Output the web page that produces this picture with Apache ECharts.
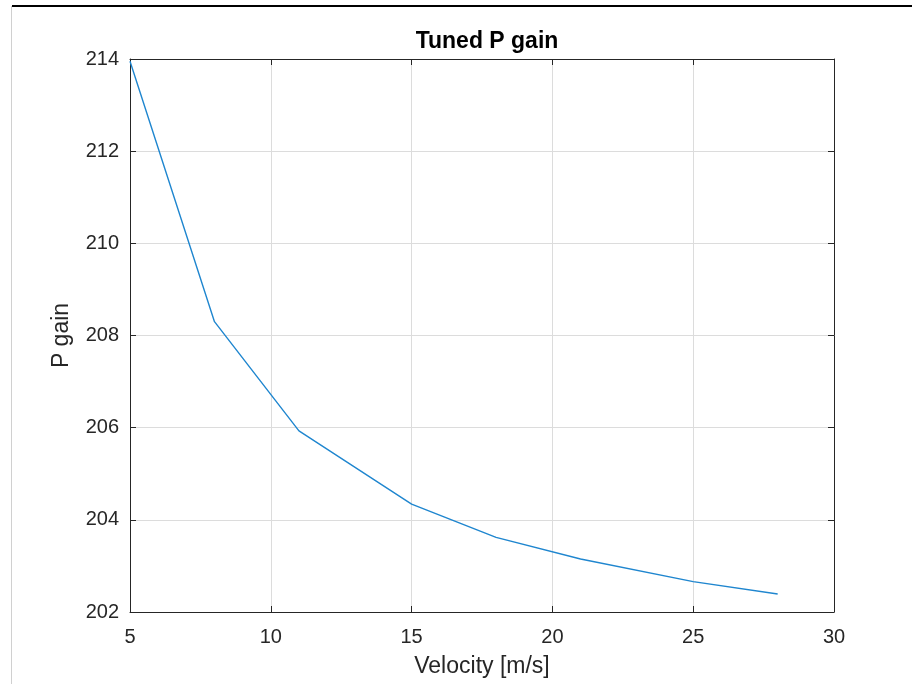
<!DOCTYPE html>
<html>
<head>
<meta charset="utf-8">
<title>Tuned P gain</title>
<script src="https://cdn.jsdelivr.net/npm/echarts@6/dist/echarts.min.js"></script>
<style>
  html, body { margin: 0; padding: 0; background: #fff; }
  #chart { width: 912px; height: 684px; }
</style>
</head>
<body>
<div id="chart"></div>
<script>
// data
var velocity = [5, 8, 11, 15, 18, 21, 25, 28];
var pGain = [213.95, 208.3, 205.93, 204.34, 203.62, 203.15, 202.66, 202.39];
var xTicks = [5, 10, 15, 20, 25, 30];
var yTicks = [202, 204, 206, 208, 210, 212, 214];

var chart = echarts.init(document.getElementById('chart'));

var font = 'Liberation Sans, Arial, Helvetica, sans-serif';
var axisColor = '#262626';

// axis used for the box: ticks inside, no labels
function boxAxis(pos, isX) {
  return {
    type: 'value',
    position: pos,
    min: isX ? 5 : 202,
    max: isX ? 30 : 214,
    interval: isX ? 5 : 2,
    axisLine: { show: true, onZero: false, lineStyle: { color: axisColor, width: 1 } },
    axisTick: { show: true, inside: true, length: 6, lineStyle: { color: axisColor } },
    axisLabel: { show: false },
    splitLine: { show: false }
  };
}

var option = {
  animation: false,
  backgroundColor: '#fff',
  title: {
    text: 'Tuned P gain',
    left: 482,
    textAlign: 'center',
    top: 25,
    textStyle: { fontFamily: font, fontSize: 23, fontWeight: 'bold', color: '#000' }
  },
  grid: { left: 130, right: 78, top: 59, bottom: 72 },
  xAxis: [
    {
      type: 'value',
      position: 'bottom',
      min: xTicks[0],
      max: xTicks[xTicks.length - 1],
      interval: 5,
      name: 'Velocity [m/s]',
      nameLocation: 'middle',
      nameGap: 43,
      nameTextStyle: { fontFamily: font, fontSize: 23, color: axisColor },
      axisLine: { show: true, onZero: false, lineStyle: { color: axisColor, width: 1 } },
      axisTick: { show: true, inside: true, length: 6, lineStyle: { color: axisColor } },
      axisLabel: { fontFamily: font, fontSize: 20, color: axisColor, margin: 15 },
      splitLine: { show: true, lineStyle: { color: '#dcdcdc', width: 1 } }
    },
    boxAxis('top', true)
  ],
  yAxis: [
    {
      type: 'value',
      position: 'left',
      min: yTicks[0],
      max: yTicks[yTicks.length - 1],
      interval: 2,
      name: 'P gain',
      nameLocation: 'middle',
      nameGap: 57,
      nameTextStyle: { fontFamily: font, fontSize: 23, color: axisColor },
      axisLine: { show: true, onZero: false, lineStyle: { color: axisColor, width: 1 } },
      axisTick: { show: true, inside: true, length: 6, lineStyle: { color: axisColor } },
      axisLabel: { fontFamily: font, fontSize: 20, color: axisColor, margin: 11 },
      splitLine: { show: true, lineStyle: { color: '#dcdcdc', width: 1 } }
    },
    boxAxis('right', false)
  ],
  series: [{
    type: 'line',
    data: velocity.map(function (v, i) { return [v, pGain[i]]; }),
    showSymbol: false,
    lineStyle: { color: '#1f86cf', width: 1.4 },
    itemStyle: { color: '#1f86cf' }
  }],
  // window frame of the screenshot
  graphic: [
    { type: 'line', shape: { x1: 12, y1: 6, x2: 912, y2: 6 }, style: { stroke: '#000', lineWidth: 2 } },
    { type: 'line', shape: { x1: 11.5, y1: 6, x2: 11.5, y2: 684 }, style: { stroke: '#d0d0d0', lineWidth: 1 } }
  ]
};

chart.setOption(option);
</script>
</body>
</html>
